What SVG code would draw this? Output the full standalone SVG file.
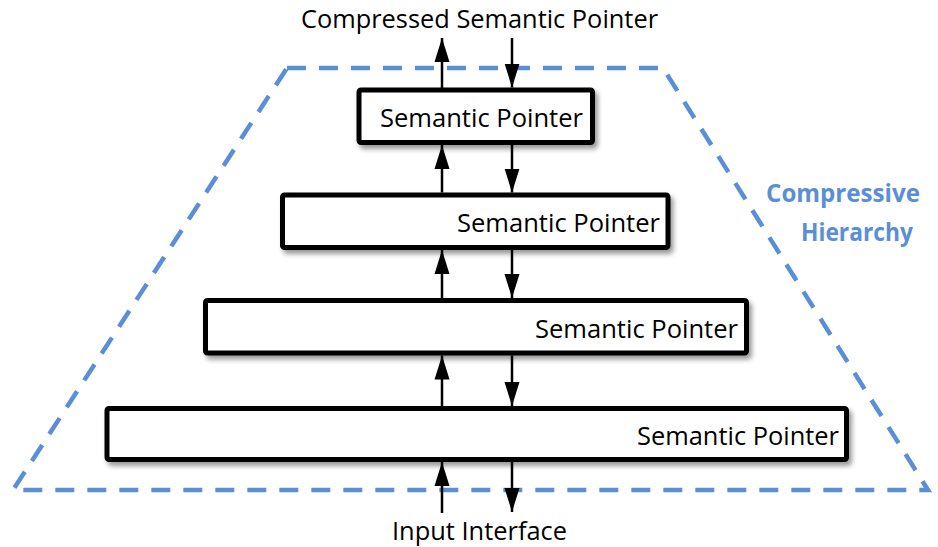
<svg xmlns="http://www.w3.org/2000/svg" width="938" height="547" viewBox="0 0 938 547">
  <defs>
    <filter id="shadow" x="-5%" y="-20%" width="110%" height="150%">
      <feDropShadow dx="3" dy="4" stdDeviation="2.5" flood-color="#000" flood-opacity="0.4"/>
    </filter>
    <marker id="head" markerUnits="userSpaceOnUse" markerWidth="24" markerHeight="16" refX="24" refY="8" orient="auto">
      <path d="M0,0.5 L24,8 L0,15.5 Z" fill="#000"/>
    </marker>
  </defs>
  <style>
    .box { fill: #fff; stroke: #000; stroke-width: 5; filter: url(#shadow); }
    .lbl { font-family: "Open Sans", "Liberation Sans", sans-serif; font-size: 26px; fill: #000; }
    .hier { font-family: "Open Sans", "Liberation Sans", sans-serif; font-size: 25px; font-weight: bold; fill: #5A8ED6; }
    .frame { fill: none; stroke: #5A8ED6; stroke-width: 4.5; stroke-dasharray: 19 13; }
    .conn line { stroke: #000; stroke-width: 2.5; marker-end: url(#head); }
  </style>

  <rect width="938" height="547" fill="#fff"/>

  <!-- dashed outline of the compressive hierarchy -->
  <g id="hierarchy-frame">
    <polygon class="frame" points="287,68 663,68 928,490 13,490"/>
    <text class="hier" x="766" y="202" textLength="154" lengthAdjust="spacingAndGlyphs">Compressive</text>
    <text class="hier" x="801" y="241" textLength="112" lengthAdjust="spacingAndGlyphs">Hierarchy</text>
  </g>

  <g id="io-labels">
    <text class="lbl" x="301" y="28" textLength="357" lengthAdjust="spacingAndGlyphs">Compressed Semantic Pointer</text>
    <text class="lbl" x="392" y="540" font-size="25" textLength="175" lengthAdjust="spacingAndGlyphs">Input Interface</text>
  </g>

  <g id="sp1">
    <rect class="box" x="359" y="90" width="233.5" height="52.5" rx="2"/>
    <text class="lbl" x="380" y="127" textLength="203" lengthAdjust="spacingAndGlyphs">Semantic Pointer</text>
  </g>
  <g id="sp2">
    <rect class="box" x="282.5" y="195" width="385.5" height="52.5" rx="2"/>
    <text class="lbl" x="457" y="232" textLength="203" lengthAdjust="spacingAndGlyphs">Semantic Pointer</text>
  </g>
  <g id="sp3">
    <rect class="box" x="205.5" y="300.5" width="541" height="52.5" rx="2"/>
    <text class="lbl" x="535" y="338" textLength="203" lengthAdjust="spacingAndGlyphs">Semantic Pointer</text>
  </g>
  <g id="sp4">
    <rect class="box" x="107" y="408.5" width="739.5" height="51" rx="2"/>
    <text class="lbl" x="637" y="445" textLength="202" lengthAdjust="spacingAndGlyphs">Semantic Pointer</text>
  </g>

  <g id="connectors" class="conn">
    <!-- top: out of / into the highest level -->
    <line x1="442" y1="88" x2="442" y2="38"/>
    <line x1="512" y1="38" x2="512" y2="87.5"/>
    <!-- level 2 <-> level 1 -->
    <line x1="442" y1="192.5" x2="442" y2="145"/>
    <line x1="512" y1="145" x2="512" y2="192.5"/>
    <!-- level 3 <-> level 2 -->
    <line x1="442" y1="298" x2="442" y2="250"/>
    <line x1="512" y1="250" x2="512" y2="298"/>
    <!-- level 4 <-> level 3 -->
    <line x1="442" y1="406" x2="442" y2="355.5"/>
    <line x1="512" y1="355.5" x2="512" y2="406"/>
    <!-- bottom: input interface -->
    <line x1="442" y1="513" x2="442" y2="462"/>
    <line x1="512" y1="462" x2="512" y2="512"/>
  </g>
</svg>
